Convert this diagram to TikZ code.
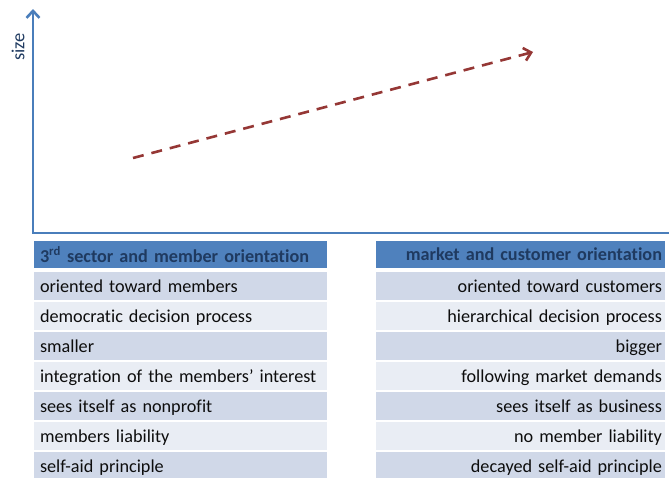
\documentclass[tikz,border=0pt]{standalone}
\usepackage{fontspec}
\setmainfont{Carlito}[Ligatures=NoCommon]
\usetikzlibrary{arrows.meta}
\hyphenpenalty=10000
\definecolor{axisblue}{HTML}{4A7EBB}
\definecolor{headblue}{HTML}{4F81BD}
\definecolor{headtext}{HTML}{1F3A60}
\definecolor{rowdark}{HTML}{D0D8E8}
\definecolor{rowlight}{HTML}{E9EDF4}
\definecolor{trendred}{HTML}{953735}
\tikzset{
  cell/.style={minimum height=28pt, inner ysep=0pt, text depth=0pt,
    font=\fontsize{18.2}{20}\selectfont, text=black!95},
  leftcell/.style={cell, minimum width=293pt, inner xsep=6pt, text width=281pt, align=left},
  rightcell/.style={cell, minimum width=289pt, inner xsep=3pt, text width=283pt, align=right},
  headcell/.style={fill=headblue, minimum height=27pt, text=headtext,
    font=\fontsize{18.2}{20}\selectfont\bfseries},
}
\begin{document}
\begin{tikzpicture}[x=1pt, y=-1pt]
      \useasboundingbox (0,0) rectangle (669,477);
      % axes
      \coordinate (origin) at (33,233);
      \coordinate (ytip) at (33,9);
      \coordinate (xend) at (669,233);
      \draw[axisblue, line width=2.6pt, -{Straight Barb[length=7pt,width=13pt]}]
        (xend) -- (origin) -- (ytip);
      \node[rotate=90, text=headtext, font=\fontsize{18.5}{20}\selectfont] (size) at (18,47) {size};
      % trend
      \coordinate (trendstart) at (133,158);
      \coordinate (trendend) at (533,52);
      \draw[trendred, line width=2.6pt, dash pattern=on 11pt off 8pt,
        -{Straight Barb[length=7pt,width=13pt]}] (trendstart) -- (trendend);
      % left column
      \node[leftcell, headcell] (l0) at (180.5,254.5) {3\textsuperscript{rd} sector and member orientation};
      \node[leftcell, fill=rowdark] (l1) at (180.5,286) {oriented toward members};
      \node[leftcell, fill=rowlight] (l2) at (180.5,316) {democratic decision process};
      \node[leftcell, fill=rowdark] (l3) at (180.5,346) {smaller};
      \node[leftcell, fill=rowlight] (l4) at (180.5,376) {integration of the members’ interest};
      \node[leftcell, fill=rowdark] (l5) at (180.5,406) {sees itself as nonprofit};
      \node[leftcell, fill=rowlight] (l6) at (180.5,436) {members liability};
      \node[leftcell, fill=rowdark] (l7) at (180.5,466) {self-aid principle};
      % right column
      \node[rightcell, headcell] (r0) at (520.5,254.5) {market and customer orientation};
      \node[rightcell, fill=rowdark] (r1) at (520.5,286) {oriented toward customers};
      \node[rightcell, fill=rowlight] (r2) at (520.5,316) {hierarchical decision process};
      \node[rightcell, fill=rowdark] (r3) at (520.5,346) {bigger};
      \node[rightcell, fill=rowlight] (r4) at (520.5,376) {following market demands};
      \node[rightcell, fill=rowdark] (r5) at (520.5,406) {sees itself as business};
      \node[rightcell, fill=rowlight] (r6) at (520.5,436) {no member liability};
      \node[rightcell, fill=rowdark] (r7) at (520.5,466) {decayed self-aid principle};
    \end{tikzpicture}
\end{document}
